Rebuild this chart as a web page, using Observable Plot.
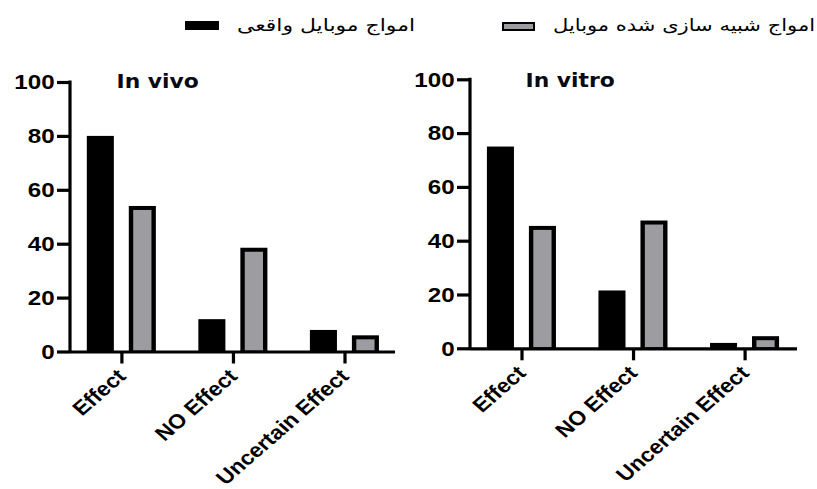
<!DOCTYPE html>
<html><head><meta charset="utf-8">
<script src="https://cdn.jsdelivr.net/npm/d3@7"></script>
<script src="https://cdn.jsdelivr.net/npm/@observablehq/plot@0.6"></script>
<style>
body{margin:0;background:#fff;}
#wrap{position:relative;width:817px;height:489px;overflow:hidden;background:#fff;}
#wrap svg{position:absolute;top:0;}
.lg-box{position:absolute;box-sizing:border-box;}
.lg-text{position:absolute;white-space:nowrap;direction:rtl;font-family:"DejaVu Sans",sans-serif;font-size:17px;line-height:20px;color:#000;transform-origin:left center;}
</style></head><body><div id="wrap"></div>
<script>
const categories = ["Effect", "NO Effect", "Uncertain Effect"];
const seriesNames = ["امواج موبایل واقعی", "امواج شبیه سازی شده موبایل"];
const seriesColors = ["#000000", "#9c9ca1"];
const inVivoReal = [80, 12, 8];
const inVivoSim = [54, 38.5, 6];
const inVitroReal = [75, 21.5, 2];
const inVitroSim = [45.5, 47.5, 4.5];
const yTicks = [0, 20, 40, 60, 80, 100];
const panelTitles = ["In vivo", "In vitro"];

const W = 817, H = 489, sx = 1.15, BW = 4;
const wrap = document.getElementById("wrap");

function panel({real, sim, title, left, width, axisX, endX, topY, zeroY, titleX, titleY}) {
  const iw = width / sx;
  const ix = X => (X - left) / sx;
  const data = categories.map((c, i) => ({category: c, real: real[i], sim: sim[i]}));
  const inNear = (56.25 - 35) / sx;
  const inFar = (56.25 + 7) / sx;
  const bh = BW * 1.1 / sx;
  const chart = Plot.plot({
    width: iw, height: H,
    marginLeft: ix(axisX), marginRight: iw - ix(endX),
    marginTop: topY, marginBottom: H - zeroY,
    style: {fontFamily: "'Liberation Sans', Arial, sans-serif", fontWeight: "bold", color: "#000", background: "transparent", overflow: "visible"},
    x: {type: "band", domain: categories, range: [ix(axisX - 6.25), ix(axisX + 331.25)], padding: 0, label: null},
    y: {domain: [0, 100], label: null},
    marks: [
      Plot.barY(data, {x: "category", y: "real", fill: seriesColors[0],
        insetLeft: inNear, insetRight: inFar}),
      Plot.barY(data, {x: "category", y: "sim", fill: "#000",
        insetLeft: inFar, insetRight: inNear}),
      Plot.barY(data, {x: "category", y: "sim", fill: seriesColors[1],
        insetLeft: inFar + bh, insetRight: inNear + bh, insetTop: BW, insetBottom: 1}),
      Plot.ruleY([0], {stroke: "#000", strokeWidth: 3.2}),
      Plot.axisY({ticks: yTicks, tickSize: 13 / sx, tickPadding: 3 / sx, fontSize: 21, fontWeight: "bold",
        strokeWidth: 3.2, label: null, tickFormat: d => String(d)}),
      Plot.axisX({tickSize: 12, tickPadding: 9, tickRotate: -45, fontSize: 20, fontWeight: "bold",
        strokeWidth: 2.8, label: null}),
      Plot.text([title], {frameAnchor: "top-left", dx: (titleX - axisX) / sx, dy: titleY - topY,
        textAnchor: "start", lineAnchor: "bottom", fontSize: 19, fontWeight: "bold",
        fontFamily: "'DejaVu Sans', sans-serif", fill: "#0a0a14"})
    ]
  });
  // y axis line
  const ys = chart.scale("y");
  d3.select(chart).append("line")
    .attr("x1", ix(axisX)).attr("x2", ix(axisX))
    .attr("y1", ys.apply(100) - 1.6).attr("y2", ys.apply(0) + 1.6)
    .attr("stroke", "#000").attr("stroke-width", 3.2 / sx);
  chart.setAttribute("preserveAspectRatio", "none");
  chart.style.left = left + "px";
  chart.style.width = width + "px";
  chart.style.height = H + "px";
  chart.style.maxWidth = "none";
  wrap.appendChild(chart);
}

panel({real: inVivoReal, sim: inVivoSim, title: panelTitles[0], left: 0, width: 410,
  axisX: 70, endX: 395, topY: 82, zeroY: 351.5, titleX: 116, titleY: 87});
panel({real: inVitroReal, sim: inVitroSim, title: panelTitles[1], left: 407, width: 410,
  axisX: 470, endX: 797, topY: 79.3, zeroY: 348.3, titleX: 525, titleY: 86.7});

// legend
const legendItems = [
  {box: [185, 21, 34, 9], text: seriesNames[0], tx: 237, tw: 178, fill: seriesColors[0], border: 0},
  {box: [502, 22, 33, 9], text: seriesNames[1], tx: 553, tw: 262, fill: seriesColors[1], border: 2}
];
legendItems.forEach(it => {
  const b = document.createElement("div");
  b.className = "lg-box";
  Object.assign(b.style, {left: it.box[0] + "px", top: it.box[1] + "px", width: it.box[2] + "px", height: it.box[3] + "px",
    background: it.fill, border: it.border ? it.border + "px solid #000" : "none"});
  wrap.appendChild(b);
  const t = document.createElement("div");
  t.className = "lg-text";
  t.textContent = it.text;
  t.style.left = it.tx + "px";
  t.style.top = "15px";
  wrap.appendChild(t);
  const w = t.getBoundingClientRect().width;
  t.style.transform = `scaleX(${it.tw / w})`;
});
</script></body></html>
